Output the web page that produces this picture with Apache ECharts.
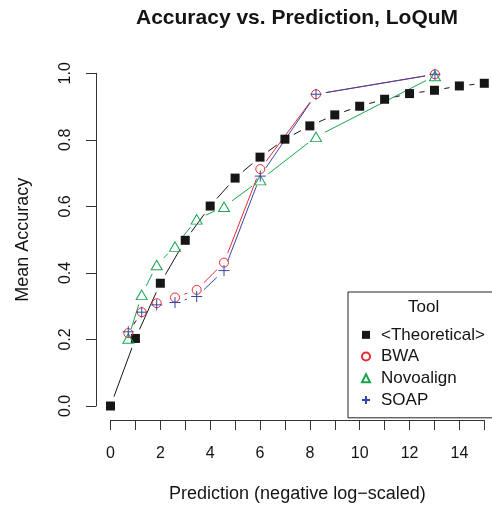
<!DOCTYPE html>
<html><head><meta charset="utf-8">
<script src="https://cdn.jsdelivr.net/npm/echarts@6/dist/echarts.min.js"></script>
<style>html,body{margin:0;padding:0;background:#fff}#c{width:492px;height:508px}</style>
</head><body><div id="c"></div>
<script>
// ---- data ----
const theoX = [0, 1, 2, 3, 4, 5, 6, 7, 8, 9, 10, 11, 12, 13, 14, 15];
const theoY = [0, 0.203, 0.369, 0.498, 0.601, 0.685, 0.748, 0.802, 0.842, 0.875, 0.901, 0.922, 0.939, 0.949, 0.962, 0.970];
const toolX = [0.714, 1.252, 1.854, 2.588, 3.459, 4.555, 6.011, 8.246, 13.02];
const bwaY  = [0.219, 0.282, 0.309, 0.326, 0.349, 0.431, 0.712, 0.937, 0.997];
const novoY = [0.203, 0.334, 0.424, 0.479, 0.561, 0.599, 0.679, 0.809, 0.992];
const soapY = [0.223, 0.282, 0.304, 0.311, 0.329, 0.407, 0.691, 0.937, 0.997];
const xTickLabels = [0, 2, 4, 6, 8, 10, 12, 14];
const yTickLabels = [0, 0.2, 0.4, 0.6, 0.8, 1.0];
const seriesNames = ['<Theoretical>', 'BWA', 'Novoalign', 'SOAP'];

// ---- styling ----
const FONT = '"Liberation Sans", Arial, Helvetica, sans-serif';
const TXT = '#141414';
const RED = '#ec2b2f', GREEN = '#17a550', BLUE = '#3346a8', BLACK = '#161616';
const GAP = 10;
const PLUS = 'path://M0,5L10,5M5,0L5,10';

function pts(xs, ys) { return xs.map((x, i) => [x, ys[i]]); }
function segs(xs, ys) {
  const d = [];
  for (let i = 0; i < xs.length - 1; i++) d.push([xs[i], ys[i], xs[i + 1], ys[i + 1]]);
  return d;
}
function gapLine(color) {
  return function (params, api) {
    const a = api.coord([api.value(0), api.value(1)]);
    const b = api.coord([api.value(2), api.value(3)]);
    const dx = b[0] - a[0], dy = b[1] - a[1], L = Math.hypot(dx, dy);
    if (L <= 2 * GAP) return { type: 'group', children: [] };
    const ux = dx / L, uy = dy / L;
    return {
      type: 'line',
      shape: { x1: a[0] + ux * GAP, y1: a[1] + uy * GAP, x2: b[0] - ux * GAP, y2: b[1] - uy * GAP },
      style: { stroke: color, lineWidth: 1 }
    };
  };
}
function lineSeries(xs, ys, color) {
  return {
    type: 'custom', silent: true, z: 1, clip: false,
    renderItem: gapLine(color),
    encode: { x: [0, 2], y: [1, 3] },
    data: segs(xs, ys)
  };
}

const chart = echarts.init(document.getElementById('c'), null, { renderer: 'canvas' });
chart.setOption({
  animation: false,
  backgroundColor: '#fff',
  textStyle: { fontFamily: FONT },
  title: {
    text: 'Accuracy vs. Prediction, LoQuM',
    left: 136, top: 8, padding: 0,
    textStyle: { fontFamily: FONT, fontSize: 21, fontWeight: 'bold', color: TXT }
  },
  grid: { left: 110.5, top: 73.3, width: 373.8, height: 332.7, containLabel: false },
  xAxis: {
    type: 'value', min: 0, max: 15, interval: 1, offset: 14,
    name: 'Prediction (negative log\u2212scaled)', nameLocation: 'middle', nameGap: 65,
    nameTextStyle: { fontFamily: FONT, fontSize: 18, color: TXT },
    axisLine: { show: true, onZero: false, lineStyle: { color: '#333', width: 1 } },
    axisTick: { show: true, length: 10, lineStyle: { color: '#333', width: 1 } },
    axisLabel: {
      margin: 26, fontSize: 16, color: TXT, fontFamily: FONT,
      formatter: v => (xTickLabels.indexOf(v) >= 0 ? String(v) : '')
    },
    splitLine: { show: false }
  },
  yAxis: {
    type: 'value', min: 0, max: 1, interval: 0.2, offset: 14.5,
    name: 'Mean Accuracy', nameLocation: 'middle', nameGap: 64,
    nameTextStyle: { fontFamily: FONT, fontSize: 18, color: TXT },
    axisLine: { show: true, onZero: false, lineStyle: { color: '#333', width: 1 } },
    axisTick: { show: true, length: 10, lineStyle: { color: '#333', width: 1 } },
    axisLabel: {
      margin: 22, fontSize: 16, color: TXT, fontFamily: FONT, rotate: 90,
      formatter: v => {
        const t = yTickLabels.find(k => Math.abs(k - v) < 1e-9);
        return t === undefined ? '' : t.toFixed(1);
      }
    },
    splitLine: { show: false }
  },
  legend: {
    orient: 'vertical', left: 348, top: 292,
    padding: [32, 40, 7, 13],
    borderColor: '#222', borderWidth: 1, backgroundColor: '#fff',
    itemWidth: 8, itemHeight: 8, itemGap: 0,
    textStyle: { fontFamily: FONT, fontSize: 17, color: TXT, lineHeight: 21.7, padding: [0, 0, 0, 6] },
    data: seriesNames,
    selectedMode: false
  },
  graphic: [{
    type: 'text', left: 408, top: 299, z: 100,
    style: { text: 'Tool', font: '17px ' + FONT, fill: TXT }
  }],
  series: [
    lineSeries(theoX, theoY, BLACK),
    lineSeries(toolX, bwaY, RED),
    lineSeries(toolX, novoY, GREEN),
    lineSeries(toolX, soapY, BLUE),
    {
      name: seriesNames[0], type: 'scatter', z: 3, symbol: 'rect', symbolSize: 9,
      itemStyle: { color: BLACK, opacity: 1 }, data: pts(theoX, theoY)
    },
    {
      name: seriesNames[1], type: 'scatter', z: 3, symbol: 'circle', symbolSize: 9,
      itemStyle: { color: 'rgba(0,0,0,0)', borderColor: RED, borderWidth: 1, opacity: 1 }, data: pts(toolX, bwaY)
    },
    {
      name: seriesNames[2], type: 'scatter', z: 3, symbol: 'triangle', symbolSize: [11, 9.5],
      itemStyle: { color: 'rgba(0,0,0,0)', borderColor: GREEN, borderWidth: 1, opacity: 1 }, data: pts(toolX, novoY)
    },
    {
      name: seriesNames[3], type: 'scatter', z: 3, symbol: PLUS, symbolSize: 11,
      itemStyle: { color: 'rgba(0,0,0,0)', borderColor: BLUE, borderWidth: 1, opacity: 1 }, data: pts(toolX, soapY)
    }
  ]
});
</script>
</body></html>
